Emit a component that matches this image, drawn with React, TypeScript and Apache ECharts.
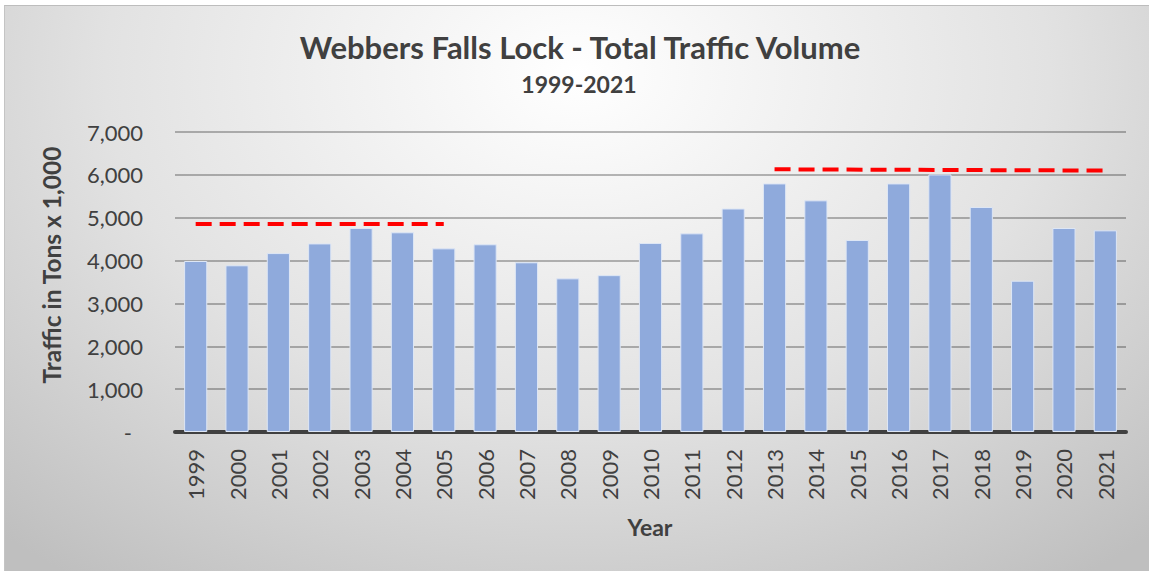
import React, { useEffect, useRef } from "react";
import * as echarts from "echarts";

const years = ["1999","2000","2001","2002","2003","2004","2005","2006","2007","2008","2009","2010","2011","2012","2013","2014","2015","2016","2017","2018","2019","2020","2021"];
const traffic = [3990,3890,4175,4400,4760,4660,4285,4380,3960,3585,3660,4410,4635,5215,5800,5405,4480,5800,6010,5250,3530,4760,4705];
const earlyTrend = [["1999", 4850], ["2005", 4850]];
const lateTrend = [["2013", 6130], ["2021", 6100]];
const titleText = "Webbers Falls Lock - Total Traffic Volume";
const subtitleText = "1999-2021";
const yAxisTitle = "Traffic in Tons x 1,000";
const xAxisTitle = "Year";

const FONT = "Lato, 'Open Sans', sans-serif";
const TXT = "#404040";

export default function App() {
  const ref = useRef<HTMLDivElement>(null);
  useEffect(() => {
    if (!ref.current) return;
    const chart = echarts.init(ref.current, null, { renderer: "svg", width: 1145, height: 566 });
    chart.setOption({
      animation: false,
      textStyle: { fontFamily: FONT },
      grid: { left: 171, top: 127, width: 951, height: 300, containLabel: false },
      xAxis: {
        type: "category",
        data: years,
        axisLine: { lineStyle: { color: "#404040", width: 4 } },
        axisTick: { show: false },
        axisLabel: { rotate: 90, interval: 0, fontSize: 22, color: TXT, margin: 17, fontFamily: FONT },
      },
      yAxis: {
        type: "value",
        min: 0,
        max: 7000,
        interval: 1000,
        axisLine: { show: false },
        axisTick: { show: false },
        splitLine: { lineStyle: { color: "rgba(0,0,0,0.27)", width: 2 } },
        axisLabel: {
          fontSize: 22,
          color: TXT,
          margin: 5,
          padding: [0, 27, 0, 0],
          fontFamily: FONT,
          formatter: (v: number) => (v === 0 ? "{d|-}" : v.toLocaleString("en-US")),
          rich: { d: { fontSize: 22, color: TXT, fontFamily: FONT, padding: [0, 11, 0, 0] } },
        },
      },
      series: [
        {
          type: "bar",
          data: traffic,
          barWidth: "56%",
          itemStyle: { color: "#8FAADC", borderColor: "#dde6f5", borderWidth: 1 },
          markLine: {
            silent: true,
            symbol: ["none", "none"],
            label: { show: false },
            lineStyle: { color: "#ff0000", width: 4, type: [16, 8] },
            data: [
              [{ coord: earlyTrend[0] }, { coord: earlyTrend[1] }],
              [{ coord: lateTrend[0] }, { coord: lateTrend[1] }],
            ],
          },
        },
      ],
      graphic: [
        {
          type: "text",
          x: 576,
          y: 42,
          style: { text: titleText, font: `bold 31px ${FONT}`, fill: TXT, textAlign: "center", textVerticalAlign: "middle" },
        },
        {
          type: "text",
          x: 575,
          y: 79,
          style: { text: subtitleText, font: `bold 23px ${FONT}`, fill: TXT, textAlign: "center", textVerticalAlign: "middle" },
        },
        {
          type: "text",
          x: 47,
          y: 260,
          rotation: Math.PI / 2,
          style: { text: yAxisTitle, font: `bold 24.5px ${FONT}`, fill: TXT, textAlign: "center", textVerticalAlign: "middle" },
        },
        {
          type: "text",
          x: 646,
          y: 522,
          style: { text: xAxisTitle, font: `bold 23px ${FONT}`, fill: TXT, textAlign: "center", textVerticalAlign: "middle" },
        },
      ],
    });
    return () => chart.dispose();
  }, []);
  return (
    <div style={{ position: "fixed", left: 0, top: 0, width: 1149, height: 571, background: "#ffffff", overflow: "hidden" }}>
      <div
        style={{
          position: "absolute",
          left: 4,
          top: 5,
          width: 1145,
          height: 566,
          background: "radial-gradient(ellipse 75% 110% at 50% 12%, #ffffff 0%, #e2e2e2 55%, #bfbfbf 100%)",
          borderTop: "1px solid #bdbdbd",
          borderLeft: "1px solid #c4c4c4",
          boxSizing: "border-box",
        }}
      >
        <div ref={ref} style={{ position: "absolute", left: -1, top: -1, width: 1145, height: 566 }} />
      </div>
    </div>
  );
}
